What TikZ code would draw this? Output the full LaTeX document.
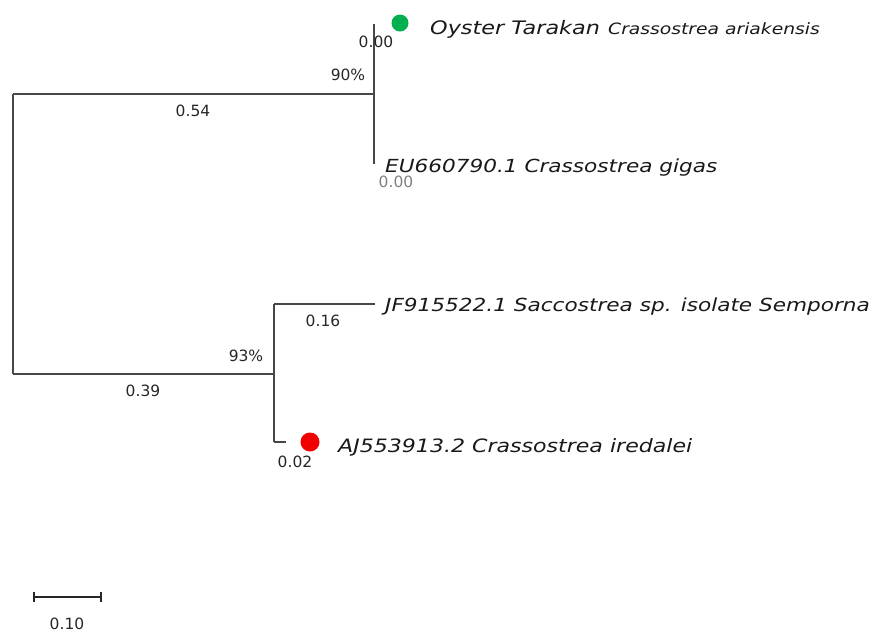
\documentclass[tikz,border=0pt]{standalone}
\usepackage{fontspec}
\setmainfont{DejaVu Sans}
\newfontfamily\widefont[FakeStretch=1.2]{DejaVu Sans}
\begin{document}
\begin{tikzpicture}[x=1pt,y=-1pt,
  branch/.style={draw=black!72,line width=1.1pt},
  taxon/.style={anchor=base west,inner sep=0pt,font=\widefont\fontsize{18}{20}\selectfont\itshape,text=black!90},
  blen/.style={inner sep=0pt,font=\fontsize{15.5}{17}\selectfont,text=black!85},
  boot/.style={inner sep=0pt,font=\fontsize{15.5}{17}\selectfont,text=black!85},
]
\useasboundingbox (0,0) rectangle (876,633);

% junctions of the tree
\coordinate (rootT) at (13,94);
\coordinate (rootB) at (13,374);
\coordinate (nA) at (374,94);
\coordinate (nAt) at (374,24);
\coordinate (nAb) at (374,164);
\coordinate (nB) at (274,374);
\coordinate (nBt) at (274,304);
\coordinate (nBb) at (274,442);
\coordinate (tJF) at (375,304);
\coordinate (tAJ) at (286,442);

% branches
\draw[branch] (rootT) -- (rootB);
\draw[branch] (rootT) -- (nA);
\draw[branch] (nAt) -- (nAb);
\draw[branch] (rootB) -- (nB);
\draw[branch] (nBt) -- (nBb);
\draw[branch] (nBt) -- (tJF);
\draw[branch] (nBb) -- (tAJ);

% marked taxa
\fill[fill={rgb,255:red,0;green,176;blue,80}] (400,23) circle (8.5);
\fill[fill={rgb,255:red,240;green,0;blue,0}] (310,442) circle (9.5);

% taxon labels
\node[taxon,font=\widefont\fontsize{18.6}{21}\selectfont\itshape] (oyster) at (430,34) {Oyster Tarakan};
\node[taxon,font=\widefont\fontsize{15.6}{18}\selectfont\itshape] (aria) at (608,34) {Crassostrea ariakensis};
\node[taxon] (eu) at (385,172) {EU660790.1 Crassostrea gigas};
\node[taxon] (jf) at (385,311) {JF915522.1 Saccostrea sp. isolate Semporna};
\node[taxon,font=\widefont\fontsize{18.4}{21}\selectfont\itshape] (aj) at (338,452) {AJ553913.2 Crassostrea iredalei};

% branch lengths and bootstrap values
\node[blen] (l1) at (376,42) {0.00};
\node[boot] (b1) at (348,75) {90\%};
\node[blen] (l2) at (193,111) {0.54};
\node[blen,text=black!50] (l3) at (396,182) {0.00};
\node[blen] (l4) at (323,321) {0.16};
\node[boot] (b2) at (246,356) {93\%};
\node[blen] (l5) at (143,391) {0.39};
\node[blen] (l6) at (295,462) {0.02};

% scale bar
\coordinate (sL) at (34,597);
\coordinate (sR) at (101,597);
\draw[line width=1.8pt,black!85] (sL) -- (sR);
\draw[line width=1.8pt,black!85] ([yshift=-5]sL) -- ([yshift=5]sL);
\draw[line width=1.8pt,black!85] ([yshift=-5]sR) -- ([yshift=5]sR);
\node[blen] (scale) at (67,624) {0.10};
\end{tikzpicture}
\end{document}
